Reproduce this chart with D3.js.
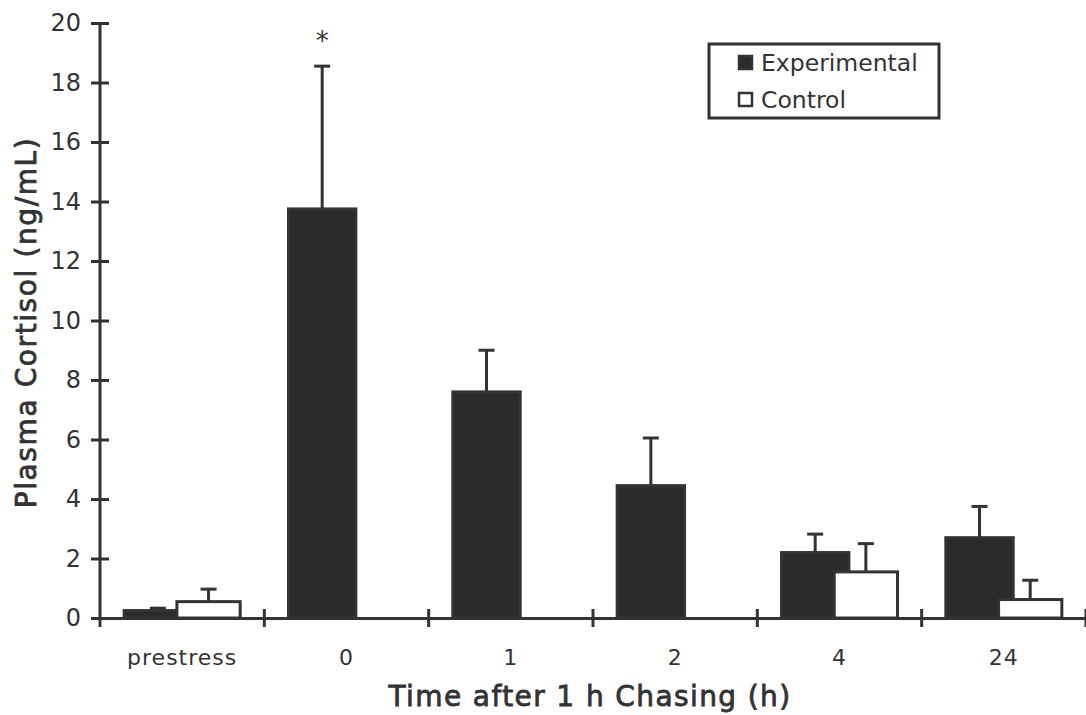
<!DOCTYPE html>
<html>
<head>
<meta charset="utf-8">
<script src="https://cdn.jsdelivr.net/npm/d3@7"></script>
<style>
  body { margin: 0; background: #fff; }
  text { font-family: "DejaVu Sans", sans-serif; fill: #333; }
</style>
</head>
<body>
<svg id="chart" width="1086" height="715"></svg>
<script>
// data
const categories = ["prestress", "0", "1", "2", "4", "24"];
const experimental = [0.25, 13.75, 7.6, 4.45, 2.2, 2.7];
const experimentalErr = [0.08, 4.8, 1.4, 1.6, 0.62, 1.05];
const control = [0.55, null, null, null, 1.55, 0.62];
const controlErr = [0.42, null, null, null, 0.95, 0.65];
const yTicks = [0, 2, 4, 6, 8, 10, 12, 14, 16, 18, 20];

const ink = "#333";
const svg = d3.select("#chart");

const x = d3.scaleBand().domain(categories).range([100, 1086]).padding(0);
const y = d3.scaleLinear().domain([0, 20]).range([618, 23]);
const bw = x.bandwidth();

// bars: experimental first, control drawn over it
const expBars = categories.map((c, i) => ({
  x: x(c) + bw * 0.147, w: bw * 0.41, v: experimental[i], e: experimentalErr[i], fill: "#2b2b2b"
}));
const ctlBars = categories.map((c, i) => ({
  x: x(c) + bw * 0.468, w: bw * 0.385, v: control[i], e: controlErr[i], fill: "#fff"
})).filter(d => d.v != null);

const allBars = expBars.concat(ctlBars);

// error bars (upward only)
const eb = svg.append("g").attr("stroke", ink).attr("stroke-width", 3);
eb.selectAll("line.stem")
  .data(allBars)
  .join("line")
  .attr("x1", d => d.x + d.w / 2).attr("x2", d => d.x + d.w / 2)
  .attr("y1", d => y(d.v)).attr("y2", d => y(d.v + d.e));
eb.selectAll("line.cap")
  .data(allBars)
  .join("line")
  .attr("x1", d => d.x + d.w / 2 - 8).attr("x2", d => d.x + d.w / 2 + 8)
  .attr("y1", d => y(d.v + d.e)).attr("y2", d => y(d.v + d.e));

svg.append("g").selectAll("rect")
  .data(allBars)
  .join("rect")
  .attr("x", d => d.x)
  .attr("y", d => y(d.v))
  .attr("width", d => d.w)
  .attr("height", d => y(0) - y(d.v))
  .attr("fill", d => d.fill)
  .attr("stroke", ink)
  .attr("stroke-width", 3);

// y axis
const yAxis = svg.append("g")
  .attr("transform", `translate(${x.range()[0]},0)`)
  .call(d3.axisLeft(y).tickValues(yTicks).tickSize(9).tickPadding(10).tickSizeOuter(0));
yAxis.select(".domain").attr("stroke", ink).attr("stroke-width", 3)
  .attr("d", `M0,${y(20)}V${y(0) + 9}`);
yAxis.selectAll(".tick line").attr("x1", -9).attr("x2", 9).attr("stroke", ink).attr("stroke-width", 3);
yAxis.selectAll(".tick text").style("font-size", "24px").attr("fill", ink);

// x axis: labels at band centres, ticks at band edges
const xAxis = svg.append("g")
  .attr("transform", `translate(0,${y(0)})`)
  .call(d3.axisBottom(x).tickSize(0).tickPadding(31));
xAxis.select(".domain").attr("stroke", ink).attr("stroke-width", 3);
xAxis.selectAll(".tick text").style("font-size", "22px").style("letter-spacing", "1px").attr("fill", ink);

svg.append("g").selectAll("line")
  .data(categories.map(c => x(c) + bw))
  .join("line")
  .attr("x1", d => d).attr("x2", d => d)
  .attr("y1", y(0) - 9).attr("y2", y(0) + 9)
  .attr("stroke", ink).attr("stroke-width", 3);

// significance mark
svg.append("text")
  .attr("x", expBars[1].x + expBars[1].w / 2)
  .attr("y", 50)
  .attr("text-anchor", "middle")
  .style("font-size", "26px")
  .text("*");

// axis titles
svg.append("text")
  .attr("transform", `translate(36,${(y(0) + y(20)) / 2 + 2}) rotate(-90)`)
  .attr("text-anchor", "middle")
  .style("font-size", "28px")
  .style("letter-spacing", "1.6px")
  .attr("stroke", ink).attr("stroke-width", 0.8)
  .text("Plasma Cortisol (ng/mL)");

svg.append("text")
  .attr("x", 590)
  .attr("y", 706)
  .attr("text-anchor", "middle")
  .style("font-size", "28px")
  .style("letter-spacing", "1.4px")
  .attr("stroke", ink).attr("stroke-width", 0.8)
  .text("Time after 1 h Chasing (h)");

// legend
const legend = svg.append("g").attr("transform", "translate(709,44)");
legend.append("rect")
  .attr("width", 230).attr("height", 74)
  .attr("fill", "#fff").attr("stroke", ink).attr("stroke-width", 3);
const legendItems = [
  { label: "Experimental", fill: "#2b2b2b" },
  { label: "Control", fill: "#fff" }
];
const li = legend.selectAll("g.item")
  .data(legendItems)
  .join("g")
  .attr("transform", (d, i) => `translate(30,${12 + i * 37})`);
li.append("rect")
  .attr("width", 13).attr("height", 13)
  .attr("fill", d => d.fill).attr("stroke", ink).attr("stroke-width", 2.5);
li.append("text")
  .attr("x", 22).attr("y", 15)
  .style("font-size", "23.5px")
  .text(d => d.label);
</script>
</body>
</html>
